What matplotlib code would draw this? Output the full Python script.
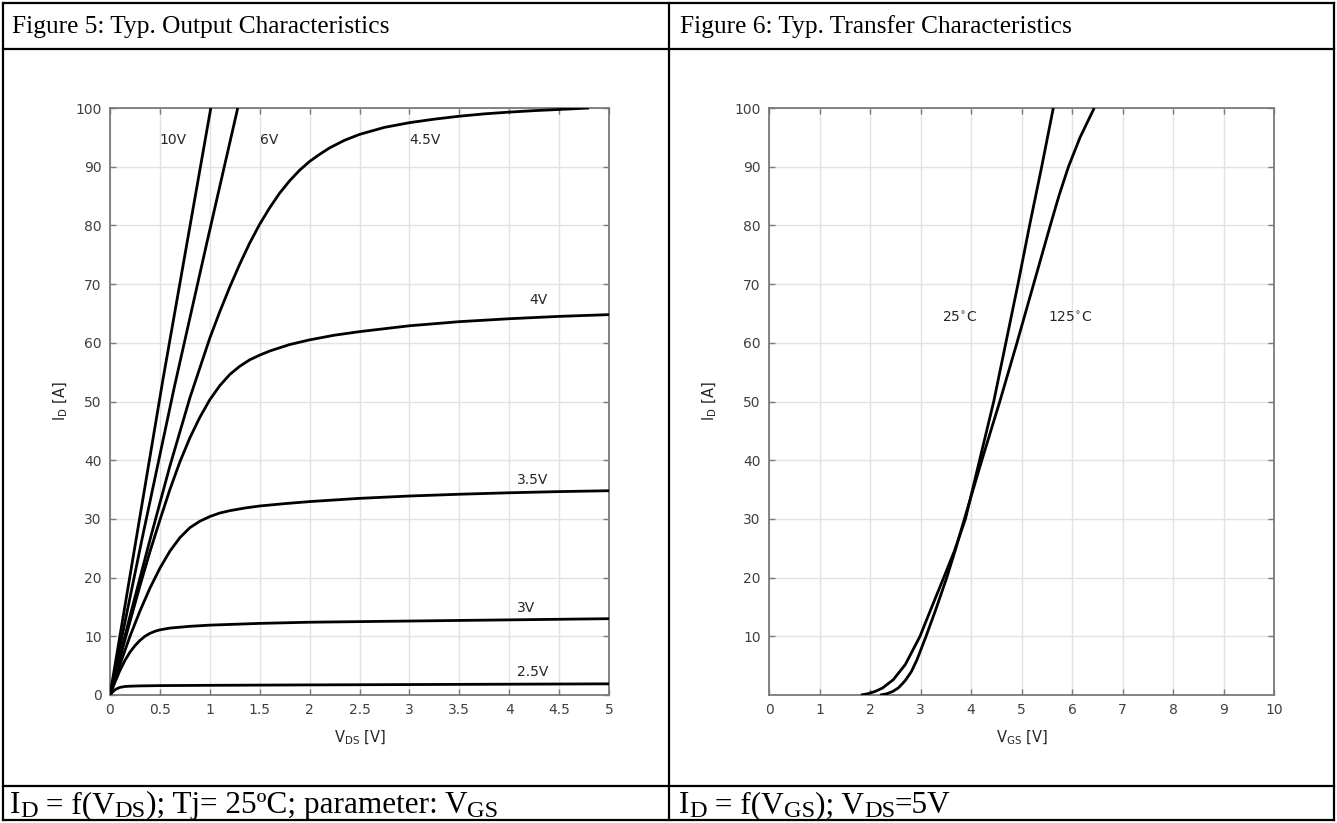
import matplotlib
matplotlib.use("Agg")
import matplotlib.pyplot as plt
from matplotlib.lines import Line2D

plt.rcParams['font.family'] = ['DejaVu Sans']
plt.rcParams['mathtext.fontset'] = 'custom'
plt.rcParams['mathtext.rm'] = 'DejaVu Sans'
plt.rcParams['mathtext.sf'] = 'DejaVu Sans'
plt.rcParams['mathtext.it'] = 'DejaVu Sans:italic'

# ---------------- data: Figure 5 (output characteristics) ----------------
vds_10v = [0, 0.53, 1.01]
id_10v = [0, 53.7, 100]

vds_6v = [0, 0.32, 0.645, 0.97, 1.28]
id_6v = [0, 26.5, 52.5, 77, 100]

vds_45v = [0, 0.2, 0.4, 0.6, 0.8, 1.0, 1.1, 1.2, 1.3, 1.4, 1.5, 1.6, 1.7, 1.8, 1.9, 2.0, 2.1, 2.2,
           2.35, 2.5, 2.75, 3.0, 3.25, 3.5, 3.75, 4.0, 4.25, 4.5, 4.8]
id_45v = [0, 13.4, 26.4, 39.0, 50.6, 60.8, 65.3, 69.5, 73.4, 77.0, 80.2, 83.0, 85.5, 87.6, 89.4, 90.9,
          92.1, 93.2, 94.5, 95.5, 96.7, 97.5, 98.1, 98.6, 99.0, 99.3, 99.55, 99.75, 100]

vds_4v = [0, 0.1, 0.2, 0.3, 0.4, 0.5, 0.6, 0.7, 0.8, 0.9, 1.0, 1.1, 1.2, 1.3, 1.4, 1.5, 1.6, 1.8,
          2.0, 2.25, 2.5, 3.0, 3.5, 4.0, 4.5, 5.0]
id_4v = [0, 6.3, 12.5, 18.6, 24.4, 29.8, 35.0, 39.7, 43.8, 47.3, 50.3, 52.7, 54.6, 56.0, 57.1, 57.9,
         58.6, 59.7, 60.5, 61.3, 61.9, 62.9, 63.6, 64.1, 64.5, 64.8]

vds_35v = [0, 0.1, 0.2, 0.3, 0.4, 0.5, 0.6, 0.7, 0.8, 0.9, 1.0, 1.1, 1.2, 1.35, 1.5, 1.75, 2.0, 2.5,
           3.0, 3.5, 4.0, 4.5, 5.0]
id_35v = [0, 5.2, 10.0, 14.3, 18.2, 21.6, 24.5, 26.8, 28.5, 29.6, 30.4, 31.0, 31.4, 31.85, 32.2, 32.6,
          32.95, 33.5, 33.9, 34.2, 34.45, 34.65, 34.8]

vds_3v = [0, 0.05, 0.1, 0.15, 0.2, 0.25, 0.3, 0.35, 0.4, 0.45, 0.5, 0.6, 0.8, 1.0, 1.5, 2.0, 3.0, 4.0, 5.0]
id_3v = [0, 2.2, 4.2, 5.9, 7.3, 8.4, 9.3, 10.0, 10.5, 10.85, 11.1, 11.4, 11.7, 11.9, 12.2, 12.4, 12.6,
         12.8, 13.0]

vds_25v = [0, 0.03, 0.06, 0.1, 0.15, 0.2, 0.3, 0.5, 1, 2, 3, 4, 5]
id_25v = [0, 0.6, 1.0, 1.3, 1.45, 1.5, 1.55, 1.6, 1.65, 1.72, 1.78, 1.84, 1.9]

out_labels = ['10V', '6V', '4.5V', '4V', '3.5V', '3V', '2.5V']
out_label_x = [0.5, 1.5, 3.0, 4.2, 4.08, 4.08, 4.08]
out_label_y = [94.5, 94.5, 94.5, 67.3, 36.7, 14.9, 3.9]

out_xticks = [0, 0.5, 1, 1.5, 2, 2.5, 3, 3.5, 4, 4.5, 5]
out_xticklabels = ['0', '0.5', '1', '1.5', '2', '2.5', '3', '3.5', '4', '4.5', '5']
out_yticks = [0, 10, 20, 30, 40, 50, 60, 70, 80, 90, 100]

# ---------------- data: Figure 6 (transfer characteristics) ----------------
vgs_25c = [1.82, 1.95, 2.1, 2.25, 2.46, 2.7, 2.99, 3.2, 3.46, 3.67, 3.89, 4.17, 4.45, 4.69, 4.93,
           5.16, 5.40, 5.63]
id_25c = [0, 0.2, 0.6, 1.2, 2.6, 5.2, 10, 14.5, 20, 24.5, 30, 40, 50, 60, 70, 80, 90, 100]

vgs_125c = [2.2, 2.33, 2.45, 2.56, 2.65, 2.71, 2.82, 2.93, 3.02, 3.11, 3.3, 3.52, 3.70, 3.87, 4.215,
            4.57, 4.91, 5.24, 5.57, 5.74, 5.93, 6.16, 6.44]
id_125c = [0, 0.2, 0.6, 1.2, 2.0, 2.6, 4.0, 6.0, 8.0, 10, 14.5, 20, 25, 30, 40, 50, 60, 70, 80, 85,
           90, 95, 100]

tr_labels = ['25$^{\\circ}$C', '125$^{\\circ}$C']
tr_label_x = [3.42, 5.53]
tr_label_y = [64.2, 64.2]

tr_xticks = [0, 1, 2, 3, 4, 5, 6, 7, 8, 9, 10]
tr_yticks = [10, 20, 30, 40, 50, 60, 70, 80, 90, 100]

header_texts = ['Figure 5: Typ. Output Characteristics', 'Figure 6: Typ. Transfer Characteristics']
footer_left = [('I', False), ('D', True), (' = f(V', False), ('DS', True),
               ('); Tj= 25ºC; parameter: V', False), ('GS', True)]
footer_right = [('I', False), ('D', True), (' = f(V', False), ('GS', True), ('); V', False),
                ('DS', True), ('=5V', False)]

# ---------------- figure ----------------
W, H = 1337, 823
fig = plt.figure(figsize=(W / 100, H / 100), dpi=100)
fig.patch.set_facecolor('white')

# table frame (pixel coordinates overlay)
frame = fig.add_axes([0, 0, 1, 1], zorder=0)
frame.set_xlim(0, W)
frame.set_ylim(H, 0)
frame.axis('off')
lw_tab = 1.6
xl, xr, xm = 3, 1334, 669
yt, yh, yf, yb = 3, 49, 786, 820
for (x0, y0, x1, y1) in [(xl, yt, xr, yt), (xl, yb, xr, yb), (xl, yt, xl, yb), (xr, yt, xr, yb),
                         (xm, yt, xm, yb), (xl, yh, xr, yh), (xl, yf, xr, yf)]:
    frame.add_line(Line2D([x0, x1], [y0, y1], color='black', lw=lw_tab, solid_capstyle='projecting'))

serif = 'Liberation Serif'
frame.text(12, 27, header_texts[0], family=serif, fontsize=18.3, va='center', ha='left', color='black')
frame.text(680, 27, header_texts[1], family=serif, fontsize=18.3, va='center', ha='left', color='black')

renderer = fig.canvas.get_renderer()


def rich(x, y, segs, size, subscale=0.78, subshift=4.0):
    for s, sub in segs:
        fs = size * subscale if sub else size
        yy = y + (subshift if sub else 0)
        t = frame.text(x, yy, s, family=serif, fontsize=fs, va='baseline', ha='left', color='black')
        bb = t.get_window_extent(renderer=renderer)
        x += bb.width


rich(10, 813, footer_left, 22.5)
rich(679, 813, footer_right, 22.5)

spine_c = '#7a7a7a'
tick_c = '#404040'
grid_c = '#e2e2e2'
curve_kw = dict(color='black', lw=2.0, solid_capstyle='butt', zorder=3)


def style(ax):
    for s in ax.spines.values():
        s.set_color(spine_c)
        s.set_linewidth(1.3)
    ax.tick_params(direction='in', top=True, right=True, length=4, width=1.0,
                   color=spine_c, labelcolor=tick_c, labelsize=10, pad=6)
    ax.grid(True, color=grid_c, lw=1.0)
    ax.set_axisbelow(True)


# left chart
axL = fig.add_axes([110 / W, 1 - 695 / H, 499 / W, 587 / H], zorder=1)
for vx, iy in [(vds_10v, id_10v), (vds_6v, id_6v), (vds_45v, id_45v), (vds_4v, id_4v),
               (vds_35v, id_35v), (vds_3v, id_3v), (vds_25v, id_25v)]:
    axL.plot(vx, iy, **curve_kw)
axL.set_xlim(0, 5)
axL.set_ylim(0, 100)
axL.set_xticks(out_xticks)
axL.set_xticklabels(out_xticklabels)
axL.set_yticks(out_yticks)
style(axL)
for t, x, y in zip(out_labels, out_label_x, out_label_y):
    axL.text(x, y, t, fontsize=10, color='#262626', ha='left', va='center')
axL.set_xlabel(r'V$_{\mathsf{DS}}$ [V]', fontsize=10.5, color='#262626', labelpad=8)
axL.set_ylabel(r'I$_{\mathsf{D}}$ [A]', fontsize=10.5, color='#262626', labelpad=4)

# right chart
axR = fig.add_axes([769 / W, 1 - 695 / H, 505 / W, 587 / H], zorder=1)
axR.plot(vgs_25c, id_25c, **curve_kw)
axR.plot(vgs_125c, id_125c, **curve_kw)
axR.set_xlim(0, 10)
axR.set_ylim(0, 100)
axR.set_xticks(tr_xticks)
axR.set_yticks(tr_yticks)
style(axR)
for t, x, y in zip(tr_labels, tr_label_x, tr_label_y):
    axR.text(x, y, t, fontsize=10, color='#262626', ha='left', va='center')
axR.set_xlabel(r'V$_{\mathsf{GS}}$ [V]', fontsize=10.5, color='#262626', labelpad=8)
axR.set_ylabel(r'I$_{\mathsf{D}}$ [A]', fontsize=10.5, color='#262626', labelpad=11)

fig.savefig('out.png', dpi=100, facecolor='white')
